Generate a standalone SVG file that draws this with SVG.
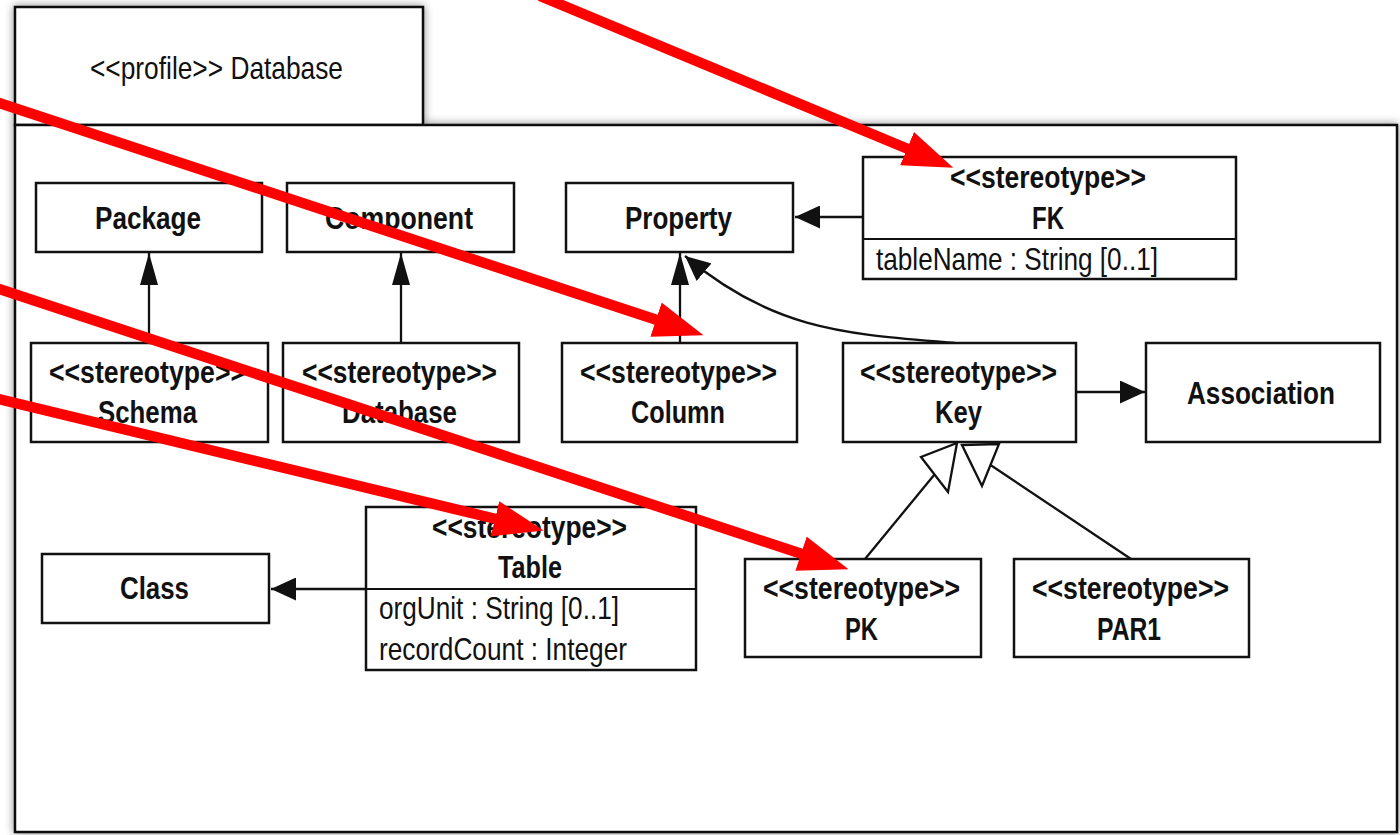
<svg xmlns="http://www.w3.org/2000/svg" width="1400" height="835" viewBox="0 0 1400 835">
  <style>
    .frame { fill: #ffffff; stroke: #111111; stroke-width: 2.5; }
    .box { fill: #ffffff; stroke: #111111; stroke-width: 2.5; }
    .sep { stroke: #111111; stroke-width: 2; }
    .edge { fill: none; stroke: #111111; stroke-width: 2.3; }
    .hollow { fill: #ffffff; stroke: #111111; stroke-width: 2.3; stroke-linejoin: miter; }
    .note { fill: none; stroke: #ff0000; stroke-width: 10.5; }
    text { font-family: "Liberation Sans", Arial, Helvetica, sans-serif; font-size: 32px; fill: #111111; }
    .b { font-weight: bold; font-size: 32px; text-anchor: middle; }
    .attr { font-weight: normal; }
  </style>
  <defs>
    <filter id="soft" x="-5%" y="-5%" width="110%" height="110%">
      <feGaussianBlur in="SourceAlpha" stdDeviation="5"/>
      <feComponentTransfer><feFuncA type="linear" slope="0.45"/></feComponentTransfer>
      <feMerge><feMergeNode/><feMergeNode in="SourceGraphic"/></feMerge>
    </filter>
    <marker id="arrowV" markerUnits="userSpaceOnUse" viewBox="0 0 32 18" markerWidth="32" markerHeight="18" refX="32" refY="9" orient="auto">
      <path d="M0,0 L32,9 L0,18 z" fill="#111111"/>
    </marker>
    <marker id="arrowH" markerUnits="userSpaceOnUse" viewBox="0 0 25 23" markerWidth="25" markerHeight="23" refX="25" refY="11.5" orient="auto">
      <path d="M0,0 L25,11.5 L0,23 z" fill="#111111"/>
    </marker>
    <marker id="redHead" markerUnits="userSpaceOnUse" viewBox="0 0 50 36" markerWidth="50" markerHeight="36" refX="1" refY="18" orient="auto">
      <path d="M0,0 L50,18 L0,36 z" fill="#ff0000"/>
    </marker>
  </defs>

  <rect width="1400" height="835" fill="#ffffff"/>

  <!-- profile package frame with its name tab -->
  <g id="profile-frame" filter="url(#soft)">
    <rect class="frame" x="15" y="7" width="408" height="118"/>
    <rect class="frame" x="15" y="125" width="1382" height="707"/>
  </g>
  <text x="90" y="79" textLength="253" lengthAdjust="spacingAndGlyphs">&lt;&lt;profile&gt;&gt; Database</text>

  <!-- connectors -->
  <g id="connectors">
    <path class="edge" d="M149 343 V253" marker-end="url(#arrowV)"/>
    <path class="edge" d="M401 343 V253" marker-end="url(#arrowV)"/>
    <path class="edge" d="M680 343 V253" marker-end="url(#arrowV)"/>
    <path class="edge" d="M863 217 H795" marker-end="url(#arrowH)"/>
    <path class="edge" d="M1076 392 H1145" marker-end="url(#arrowH)"/>
    <path class="edge" d="M366 589 H271" marker-end="url(#arrowH)"/>
    <path class="edge" d="M955 343 C850 334 775 332 685 256" marker-end="url(#arrowH)"/>
    <!-- generalizations to Key -->
    <path class="edge" d="M865 559 L934.5 474.5"/>
    <polygon class="hollow" points="957,443 921,457 948,492"/>
    <path class="edge" d="M1131 559 L990.5 465"/>
    <polygon class="hollow" points="962,445 999,444 982,486"/>
  </g>

  <g id="package">
    <rect class="box" x="36" y="183" width="226" height="69"/>
    <text class="b" x="148" y="229" textLength="106" lengthAdjust="spacingAndGlyphs">Package</text>
  </g>
  <g id="component">
    <rect class="box" x="287" y="183" width="227" height="69"/>
    <text class="b" x="399" y="229" textLength="148" lengthAdjust="spacingAndGlyphs">Component</text>
  </g>
  <g id="property">
    <rect class="box" x="566" y="183" width="227" height="69"/>
    <text class="b" x="678.5" y="229" textLength="107" lengthAdjust="spacingAndGlyphs">Property</text>
  </g>
  <g id="fk">
    <rect class="box" x="863" y="157" width="373" height="122"/>
    <line class="sep" x1="863" y1="239" x2="1236" y2="239"/>
    <text class="b" x="1048" y="188" textLength="196" lengthAdjust="spacingAndGlyphs">&lt;&lt;stereotype&gt;&gt;</text>
    <text class="b" x="1048" y="229" textLength="32" lengthAdjust="spacingAndGlyphs">FK</text>
    <text class="attr" x="876" y="270" textLength="282" lengthAdjust="spacingAndGlyphs">tableName : String [0..1]</text>
  </g>
  <g id="schema">
    <rect class="box" x="31" y="343" width="237" height="99"/>
    <text class="b" x="147.5" y="383" textLength="197" lengthAdjust="spacingAndGlyphs">&lt;&lt;stereotype&gt;&gt;</text>
    <text class="b" x="147.5" y="423" textLength="99" lengthAdjust="spacingAndGlyphs">Schema</text>
  </g>
  <g id="database">
    <rect class="box" x="283" y="343" width="236" height="99"/>
    <text class="b" x="399.5" y="383" textLength="195" lengthAdjust="spacingAndGlyphs">&lt;&lt;stereotype&gt;&gt;</text>
    <text class="b" x="399.5" y="423" textLength="115" lengthAdjust="spacingAndGlyphs">Database</text>
  </g>
  <g id="column">
    <rect class="box" x="562" y="343" width="235" height="99"/>
    <text class="b" x="678.5" y="383" textLength="197" lengthAdjust="spacingAndGlyphs">&lt;&lt;stereotype&gt;&gt;</text>
    <text class="b" x="678" y="423" textLength="94" lengthAdjust="spacingAndGlyphs">Column</text>
  </g>
  <g id="key">
    <rect class="box" x="843" y="343" width="233" height="99"/>
    <text class="b" x="958.5" y="383" textLength="197" lengthAdjust="spacingAndGlyphs">&lt;&lt;stereotype&gt;&gt;</text>
    <text class="b" x="958.5" y="423" textLength="47" lengthAdjust="spacingAndGlyphs">Key</text>
  </g>
  <g id="association">
    <rect class="box" x="1146" y="343" width="234" height="99"/>
    <text class="b" x="1261" y="404" textLength="148" lengthAdjust="spacingAndGlyphs">Association</text>
  </g>
  <g id="class">
    <rect class="box" x="42" y="554" width="227" height="69"/>
    <text class="b" x="154.5" y="599" textLength="69" lengthAdjust="spacingAndGlyphs">Class</text>
  </g>
  <g id="table">
    <rect class="box" x="366" y="507" width="330" height="163"/>
    <line class="sep" x1="366" y1="589" x2="696" y2="589"/>
    <text class="b" x="529.5" y="538" textLength="195" lengthAdjust="spacingAndGlyphs">&lt;&lt;stereotype&gt;&gt;</text>
    <text class="b" x="530" y="578" textLength="64" lengthAdjust="spacingAndGlyphs">Table</text>
    <text class="attr" x="379" y="619" textLength="240" lengthAdjust="spacingAndGlyphs">orgUnit : String [0..1]</text>
    <text class="attr" x="379" y="660" textLength="248" lengthAdjust="spacingAndGlyphs">recordCount : Integer</text>
  </g>
  <g id="pk">
    <rect class="box" x="745" y="559" width="236" height="98"/>
    <text class="b" x="861.5" y="599" textLength="197" lengthAdjust="spacingAndGlyphs">&lt;&lt;stereotype&gt;&gt;</text>
    <text class="b" x="861.5" y="640" textLength="33" lengthAdjust="spacingAndGlyphs">PK</text>
  </g>
  <g id="par1">
    <rect class="box" x="1014" y="559" width="235" height="98"/>
    <text class="b" x="1130.5" y="599" textLength="197" lengthAdjust="spacingAndGlyphs">&lt;&lt;stereotype&gt;&gt;</text>
    <text class="b" x="1129" y="640" textLength="64" lengthAdjust="spacingAndGlyphs">PAR1</text>
  </g>

  <!-- red callout arrows drawn over the diagram -->
  <g id="callouts">
    <path class="note" d="M540 -4 L908 149" marker-end="url(#redHead)"/>
    <path class="note" d="M-10 100 L657 320" marker-end="url(#redHead)"/>
    <path class="note" d="M-10 286 L802 554" marker-end="url(#redHead)"/>
    <path class="note" d="M-10 397 L496 519" marker-end="url(#redHead)"/>
  </g>
</svg>
